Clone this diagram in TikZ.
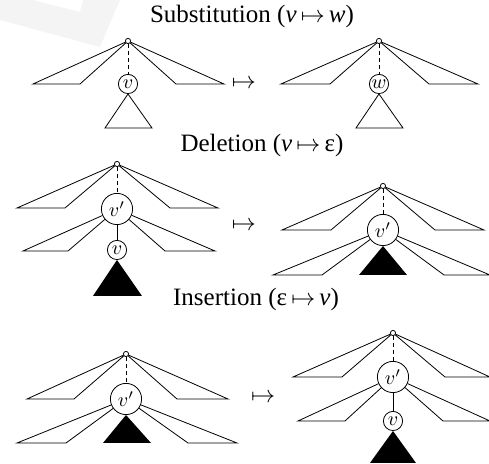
\documentclass[tikz,border=0pt]{standalone}
\usepackage{fontspec}
\setmainfont{Liberation Serif}
\usepackage{xcolor}

\begin{document}
\begin{tikzpicture}[x=0.5pt,y=-0.5pt,
  root/.style={draw,circle,fill=white,inner sep=0pt,minimum size=2.6pt},
  vert/.style={draw,circle,fill=white,inner sep=0pt,minimum size=9.6pt,font=\fontsize{10}{12}\selectfont},
  bigvert/.style={draw,circle,fill=white,inner sep=0pt,minimum size=15.6pt,font=\fontsize{10}{12}\selectfont},
  title/.style={font=\fontsize{12.5}{14}\selectfont},
  edit/.style={font=\fontsize{12}{14}\selectfont},
  link/.style={dash pattern=on 2pt off 1.5pt}]
  \useasboundingbox (0,0) rectangle (489,464);
  \fill[gray!9] (0,20) -- (0,0) -- (33,0) -- (80,12) -- (83,0) -- (120,0) -- (100,47) -- cycle;

  % substitution
  \node[title] (t1) at (252,16) {Substitution (\textit{v}\,$\mapsto$\,\textit{w})};
  \node[root] (r1) at (128,41) {}; \node[vert] (v1) at (128,84) {$v$};
  \coordinate (a1) at (33,84); \coordinate (b1) at (80,84);
  \coordinate (c1) at (176,84); \coordinate (d1) at (224,84);
  \coordinate (e1) at (105,128); \coordinate (f1) at (152,128);
  \draw[link] (r1)--(v1);
  \draw (r1)--(a1)--(b1)--(r1);
  \draw (r1)--(d1)--(c1)--(r1);
  \draw (v1.south)--(e1)--(f1)--cycle;
  \node[edit] (m1) at (244,84) {$\mapsto$};
  \node[root] (r2) at (379,41) {}; \node[vert] (w2) at (379,84) {$w$};
  \coordinate (a2) at (281,84); \coordinate (b2) at (330,84);
  \coordinate (c2) at (429,84); \coordinate (d2) at (478,84);
  \coordinate (e2) at (356,128); \coordinate (f2) at (403,128);
  \draw[link] (r2)--(w2);
  \draw (r2)--(a2)--(b2)--(r2);
  \draw (r2)--(d2)--(c2)--(r2);
  \draw (w2.south)--(e2)--(f2)--cycle;

  % deletion
  \node[title] (t2) at (262,145) {Deletion (\textit{v}\,$\mapsto$\,ε)};
  \node[root] (r3) at (117,164) {}; \node[bigvert] (p3) at (117,209) {$v'$};
  \node[vert] (v3) at (117,250) {$v$};
  \coordinate (a3) at (17,208); \coordinate (b3) at (65,208);
  \coordinate (c3) at (170,208); \coordinate (d3) at (218,208);
  \coordinate (g3) at (23,251); \coordinate (h3) at (68,251);
  \coordinate (i3) at (165,251); \coordinate (j3) at (215,251);
  \coordinate (e3) at (93,296); \coordinate (f3) at (142,296);
  \draw[link] (r3)--(p3);
  \draw (r3)--(a3)--(b3)--(r3);
  \draw (r3)--(d3)--(c3)--(r3);
  \draw (p3)--(g3)--(h3)--(p3);
  \draw (p3)--(j3)--(i3)--(p3);
  \draw (p3)--(v3);
  \fill (v3.south)--(e3)--(f3)--cycle;
  \node[edit] (m3) at (244,226) {$\mapsto$};
  \node[root] (r4) at (383,186) {}; \node[bigvert] (p4) at (383,230) {$v'$};
  \coordinate (a4) at (282,230); \coordinate (b4) at (331,230);
  \coordinate (c4) at (435,230); \coordinate (d4) at (484,230);
  \coordinate (g4) at (273,275); \coordinate (h4) at (322,275);
  \coordinate (i4) at (444,275); \coordinate (j4) at (490,275);
  \coordinate (e4) at (359,275); \coordinate (f4) at (407,275);
  \draw[link] (r4)--(p4);
  \draw (r4)--(a4)--(b4)--(r4);
  \draw (r4)--(d4)--(c4)--(r4);
  \draw (p4)--(g4)--(h4)--(p4);
  \draw (p4)--(j4)--(i4)--(p4);
  \fill (p4.south)--(e4)--(f4)--cycle;

  % insertion
  \node[title] (t5) at (256,299) {Insertion (ε\,$\mapsto$\,\textit{v})};
  \node[root] (r5) at (126,354) {}; \node[bigvert] (p5) at (126,399) {$v'$};
  \coordinate (a5) at (27,399); \coordinate (b5) at (74,399);
  \coordinate (c5) at (177,399); \coordinate (d5) at (228,399);
  \coordinate (g5) at (17,443); \coordinate (h5) at (66,443);
  \coordinate (i5) at (188,443); \coordinate (j5) at (237,443);
  \coordinate (e5) at (103,443); \coordinate (f5) at (151,443);
  \draw[link] (r5)--(p5);
  \draw (r5)--(a5)--(b5)--(r5);
  \draw (r5)--(d5)--(c5)--(r5);
  \draw (p5)--(g5)--(h5)--(p5);
  \draw (p5)--(j5)--(i5)--(p5);
  \fill (p5.south)--(e5)--(f5)--cycle;
  \node[edit] (m5) at (263,398) {$\mapsto$};
  \node[root] (r6) at (393,333) {}; \node[bigvert] (p6) at (393,377) {$v'$};
  \node[vert] (v6) at (393,421) {$v$};
  \coordinate (a6) at (293,377); \coordinate (b6) at (342,377);
  \coordinate (c6) at (445,377); \coordinate (d6) at (490,377);
  \coordinate (g6) at (298,421); \coordinate (h6) at (345,421);
  \coordinate (i6) at (443,421); \coordinate (j6) at (490,421);
  \coordinate (e6) at (370,463); \coordinate (f6) at (416,463);
  \draw[link] (r6)--(p6);
  \draw (r6)--(a6)--(b6)--(r6);
  \draw (r6)--(d6)--(c6)--(r6);
  \draw (p6)--(g6)--(h6)--(p6);
  \draw (p6)--(j6)--(i6)--(p6);
  \draw (p6)--(v6);
  \fill (v6.south)--(e6)--(f6)--cycle;
\end{tikzpicture}
\end{document}
